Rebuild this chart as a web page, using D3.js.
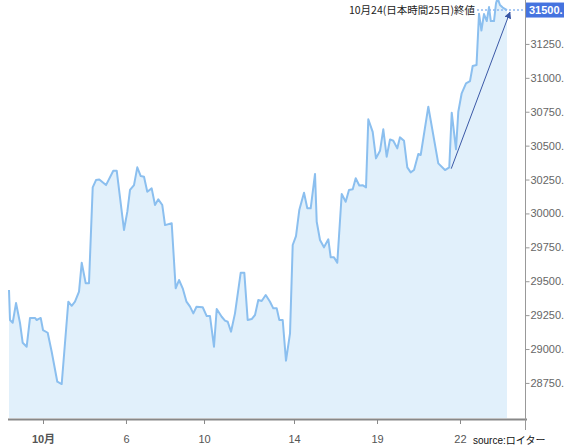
<!DOCTYPE html>
<html><head><meta charset="utf-8">
<script src="https://cdn.jsdelivr.net/npm/d3@7"></script>
<style>body{margin:0;background:#fff;overflow:hidden;} svg{display:block;}</style>
</head><body><svg width="564" height="448"></svg>
<script>
const times = [0,0.2,0.74,1.41,2.21,2.75,3.55,4.22,5.22,5.56,6.37,6.83,7.77,8.57,9.70,10.58,11.91,12.59,13.25,14.06,14.60,15.40,16.06,16.81,17.47,18.13,19.48,20.94,21.63,23.09,23.76,24.30,25.10,25.76,26.45,27.11,27.77,28.65,29.32,29.98,30.78,31.33,32.67,33.47,34.14,34.88,35.64,36.35,37.01,37.65,38.90,39.70,40.36,41.16,41.71,42.71,43.37,43.92,44.58,45.38,46.53,47.25,47.93,48.73,49.40,50.06,50.74,51.55,52.41,53.07,53.76,54.28,54.96,55.62,56.43,56.97,57.63,58.29,59.24,59.90,60.58,61.45,61.79,62.45,63.25,64.12,64.60,65.26,65.92,66.81,67.61,68.27,69.02,69.62,70.34,71.08,71.69,72.15,73.03,73.69,74.50,75.16,75.84,76.51,77.17,77.97,78.51,79.32,79.98,80.66,81.33,82.19,82.67,84.20,86.20,87.55,88.41,88.90,89.76,90.22,90.90,91.77,92.57,93.11,93.88,94.38,94.86,95.38,95.94,96.39,96.75,97.39,97.79,98.11,98.59,99.14,100];
const values = [29435,29214,29194,29339,29192,29046,29017,29229,29229,29214,29229,29140,29120,28980,28759,28742,29349,29319,29349,29423,29636,29485,29485,30192,30246,30251,30209,30315,30315,29878,30013,30173,30209,30340,30276,30271,30160,30185,30062,30104,30062,29914,29927,29448,29509,29448,29349,29313,29263,29312,29308,29243,29243,29017,29295,29238,29209,29201,29128,29263,29563,29563,29214,29221,29251,29361,29354,29398,29349,29300,29300,29214,29214,28914,29116,29767,29833,30025,30153,30038,30038,30291,29939,29804,29750,29809,29676,29676,29636,30143,30086,30173,30178,30259,30206,30207,30192,30694,30602,30406,30462,30620,30418,30546,30536,30480,30561,30536,30340,30303,30320,30438,30431,30787,30369,30320,30340,30743,30473,30750,30886,30959,30976,31087,31094,31473,31349,31470,31419,31522,31419,31419,31549,31588,31537,31518,31500];
const yTicks = [28750,29000,29250,29500,29750,30000,30250,30500,30750,31000,31250];
const xTickPos = [6.83,23.49,39.16,57.23,73.90,90.56];
const xTickLabels = ["10月","6","10","14","19","22"];
const lastValue = 31500;
const lastLabel = "31500.";
const annotationText = "10月24(日本時間25日)終値";
const arrowFrom = [88.8, 30330];
const arrowTo = [100.6, 31485];
const sourceText = "source:ロイター";

const svg = d3.select("svg");
const x = d3.scaleLinear().domain([0,100]).range([9,507]);
const y = d3.scaleLinear().domain([28484,31574]).range([419,0]);
const data = times.map((t,i)=>({t, v: values[i]}));

const defs = svg.append("defs");
defs.append("marker").attr("id","ah").attr("viewBox","0 0 10 10").attr("refX",9).attr("refY",5)
  .attr("markerWidth",7).attr("markerHeight",7).attr("orient","auto")
  .append("path").attr("d","M0,0L10,5L0,10z").attr("fill","#3a58a6");

svg.append("path").datum(data)
  .attr("d", d3.area().x(d=>x(d.t)).y0(418).y1(d=>y(d.v)))
  .attr("fill","#e1f0fb");
svg.append("path").datum(data)
  .attr("d", d3.line().x(d=>x(d.t)).y(d=>y(d.v)))
  .attr("fill","none").attr("stroke","#8bbfef").attr("stroke-width",2).attr("stroke-linejoin","round");

// axes lines
svg.append("line").attr("x1",8).attr("x2",527).attr("y1",419.5).attr("y2",419.5).attr("stroke","#888").attr("stroke-width",2);
svg.append("line").attr("x1",525.5).attr("x2",525.5).attr("y1",0).attr("y2",430).attr("stroke","#999").attr("stroke-width",1);

const ya = svg.append("g").attr("transform","translate(525.5,0)")
  .call(d3.axisRight(y).tickValues(yTicks).tickSize(4).tickPadding(1).tickFormat(d=>d+"."));
ya.select(".domain").remove();
ya.selectAll("line").attr("stroke","#999");
ya.selectAll("text").attr("fill","#666").style("font","11px 'Liberation Sans', Arial, sans-serif");

const xa = svg.append("g").attr("transform","translate(0,420)")
  .call(d3.axisBottom(x).tickValues(xTickPos).tickSize(4).tickPadding(11).tickFormat((d,i)=>xTickLabels[i]));
xa.select(".domain").remove();
xa.selectAll("line").attr("stroke","#888");
xa.selectAll("text").attr("fill","#555").style("font","11px 'Liberation Sans', 'Noto Sans CJK JP', sans-serif")
  .style("font-weight",(d,i)=>i===0?"bold":"normal");

// last value dotted line and label
svg.append("line").attr("x1",477).attr("x2",525).attr("y1",y(lastValue)).attr("y2",y(lastValue))
  .attr("stroke","#8fb9f0").attr("stroke-width",1.5).attr("stroke-dasharray","2,2");
svg.append("rect").attr("x",526).attr("y",y(lastValue)-7.5).attr("width",40).attr("height",15).attr("fill","#4573df");
svg.append("text").attr("x",529).attr("y",y(lastValue)).attr("dy","0.35em").text(lastLabel)
  .attr("fill","#fff").style("font","bold 11px 'Liberation Sans', Arial, sans-serif");

// annotation
svg.append("line").attr("x1",x(arrowFrom[0])).attr("y1",y(arrowFrom[1])).attr("x2",x(arrowTo[0])).attr("y2",y(arrowTo[1]))
  .attr("stroke","#3a58a6").attr("stroke-width",1).attr("marker-end","url(#ah)");
svg.append("text").attr("x",475).attr("y",y(lastValue)).attr("dy","0.35em").attr("text-anchor","end")
  .text(annotationText).attr("fill","#222").style("font","10.5px 'Noto Sans CJK JP', sans-serif");

svg.append("text").attr("x",473).attr("y",440).attr("dy","0.35em").text(sourceText)
  .attr("fill","#111").style("font","10px 'Liberation Sans', 'Noto Sans CJK JP', sans-serif");
</script>
</body></html>
